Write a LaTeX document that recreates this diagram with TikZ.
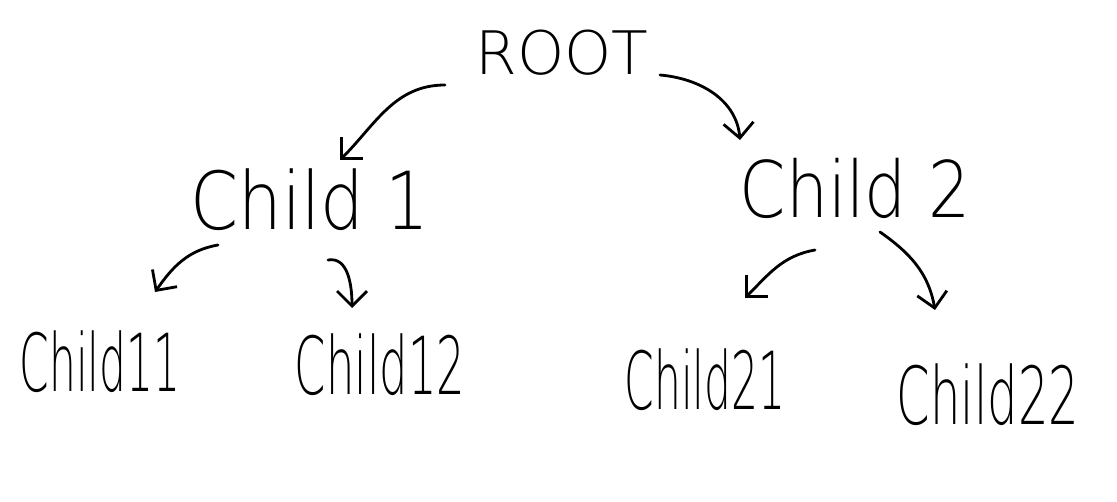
\documentclass[tikz,border=0pt]{standalone}
\usepackage{fontspec}
\setmainfont{DejaVu Sans ExtraLight}
\usetikzlibrary{arrows.meta}
\begin{document}
\begin{tikzpicture}[x=1pt,y=1pt,
  lbl/.style={inner sep=0pt, anchor=base, transform shape},
  arr/.style={line width=2.8pt, line cap=round, line join=round,
    -{Straight Barb[length=15pt,width=30pt,line width=2.8pt]}}]
\useasboundingbox (0,0) rectangle (1117,501);
\node[lbl, font=\fontsize{60}{60}\selectfont] (root) at (562,426) {ROOT};
\node[lbl, font=\fontsize{80}{80}\selectfont, xscale=0.86] (c1) at (310,271) {Child 1};
\node[lbl, font=\fontsize{78}{78}\selectfont, xscale=0.85] (c2) at (855,283) {Child 2};
\node[lbl, font=\fontsize{80}{80}\selectfont, xscale=0.53] (c11) at (100,109) {Child11};
\node[lbl, font=\fontsize{80}{80}\selectfont, xscale=0.56] (c12) at (380,106) {Child12};
\node[lbl, font=\fontsize{80}{80}\selectfont, xscale=0.53] (c21) at (705,91) {Child21};
\node[lbl, font=\fontsize{80}{80}\selectfont, xscale=0.6] (c22) at (988,76) {Child22};
\draw[arr] ([shift={(-117,-10)}]root.base) to[out=180,in=45] ([shift={(30,70)}]c1.base);
\draw[arr] ([shift={(98,0)}]root.base) to[out=-5,in=95] ([shift={(-115,78)}]c2.base);
\draw[arr] ([shift={(-92,-15)}]c1.base) to[out=190,in=55] ([shift={(55,100)}]c11.base);
\draw[arr] ([shift={(18,-30)}]c1.base) to[out=10,in=90] ([shift={(-28,87)}]c12.base);
\draw[arr] ([shift={(-40,-32)}]c2.base) to[out=190,in=45] ([shift={(40,112)}]c21.base);
\draw[arr] ([shift={(25,-14)}]c2.base) to[out=-35,in=100] ([shift={(-53,115)}]c22.base);
\end{tikzpicture}
\end{document}
